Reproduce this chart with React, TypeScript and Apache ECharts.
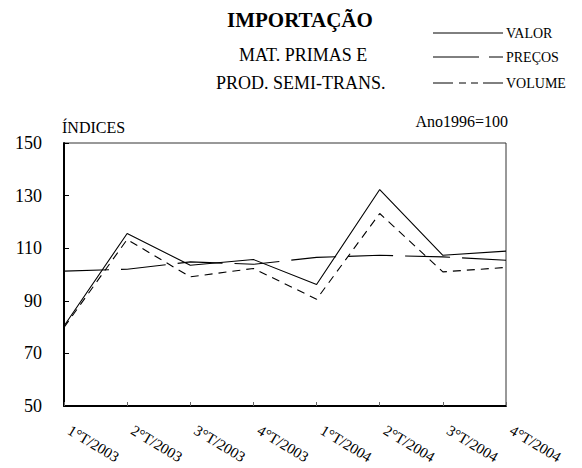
import React, { useEffect, useRef } from "react";
import * as echarts from "echarts";

const categories = ["1°T/2003", "2°T/2003", "3°T/2003", "4°T/2003", "1°T/2004", "2°T/2004", "3°T/2004", "4°T/2004"];
const valor = [80.4, 115.6, 103.5, 105.7, 96.2, 132.3, 107.3, 108.9];
const precos = [101.3, 102.0, 104.8, 103.9, 106.5, 107.3, 106.7, 105.4];
const volume = [79.9, 113.3, 99.1, 102.3, 90.6, 123.2, 101.0, 102.7];
const seriesNames = ["VALOR", "PREÇOS", "VOLUME"];
const yTicks = { min: 50, max: 150, interval: 20 };

const SERIF = "Liberation Serif";

export default function App() {
  const ref = useRef<HTMLDivElement>(null);
  useEffect(() => {
    if (!ref.current) return;
    const chart = echarts.init(ref.current, undefined, { renderer: "svg" });
    const legendY = [33, 57, 83];
    const legendDash = [[] as number[], [46, 10, 14], [20, 6, 7, 5, 7, 5, 21]];

    const t = (text: string, pos: any, size: number, bold = false) => ({
      text,
      ...pos,
      padding: 0,
      itemGap: 0,
      textStyle: { fontFamily: SERIF, fontSize: size, fontWeight: bold ? "bold" : "normal", color: "#000" },
    });
    const titles: any[] = [
      t("IMPORTAÇÃO", { left: 227, top: 9 }, 21, true),
      t("MAT. PRIMAS E", { left: 239, top: 46 }, 18),
      t("PROD. SEMI-TRANS.", { left: 216, top: 74 }, 18),
      t("ÍNDICES", { left: 62, top: 119 }, 16),
      t("Ano1996=100", { right: 74, top: 113 }, 16),
    ];
    const graphic: any[] = [];
    seriesNames.forEach((name, i) => {
      graphic.push({
        type: "line",
        shape: { x1: 433, y1: legendY[i], x2: 503, y2: legendY[i] },
        style: { stroke: "#000", lineWidth: 1, lineDash: legendDash[i].length ? legendDash[i] : null },
      });
      titles.push(t(name, { left: 506, top: legendY[i] - 7 }, 14));
    });

    const mk = (name: string, data: number[], type: any) => ({
      name,
      type: "line",
      data,
      symbol: "none",
      lineStyle: { color: "#000", width: 1.1, type },
      itemStyle: { color: "#000" },
    });

    chart.setOption({
      animation: false,
      backgroundColor: "#fff",
      title: titles,
      grid: { left: 64, right: 76, top: 143, bottom: 62, show: true, borderColor: "#333", borderWidth: 1 },
      xAxis: {
        type: "category",
        data: categories,
        boundaryGap: false,
        axisLine: { show: true, lineStyle: { color: "#000", width: 2 } },
        axisTick: { show: true, inside: true, length: 4, lineStyle: { color: "#666" } },
        axisLabel: { interval: 0, rotate: -31, margin: 20, padding: [0, 0, 0, 6], fontFamily: SERIF, fontSize: 15, color: "#000" },
        splitLine: { show: false },
      },
      yAxis: {
        type: "value",
        min: yTicks.min,
        max: yTicks.max,
        interval: yTicks.interval,
        axisLine: { show: true, lineStyle: { color: "#000", width: 2 } },
        axisTick: { show: true, inside: true, length: 5, lineStyle: { color: "#000" } },
        axisLabel: { margin: 22, fontFamily: SERIF, fontSize: 18, color: "#000" },
        splitLine: { show: false },
      },
      graphic,
      series: [
        mk(seriesNames[0], valor, "solid"),
        mk(seriesNames[1], precos, [45, 12]),
        mk(seriesNames[2], volume, [8, 6]),
      ],
    });
    return () => chart.dispose();
  }, []);
  return <div ref={ref} style={{ position: "fixed", left: 0, top: 0, width: 582, height: 468, background: "#fff" }} />;
}
